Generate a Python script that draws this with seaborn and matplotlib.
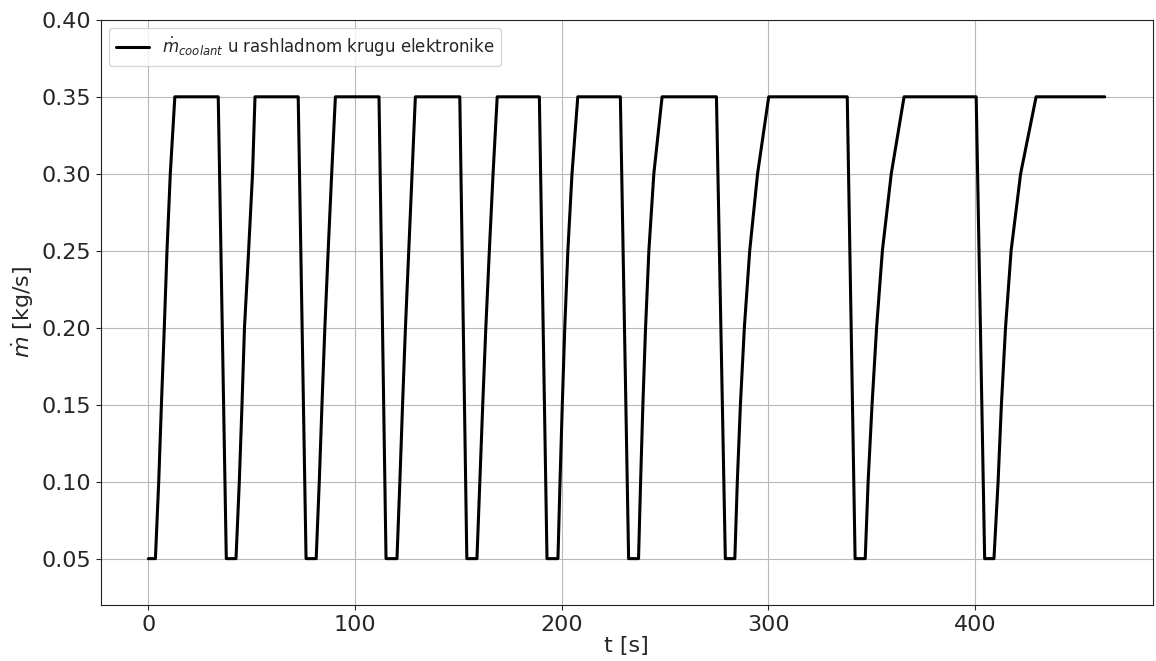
import numpy as np
import pandas as pd
import matplotlib
matplotlib.use("Agg")
import matplotlib.pyplot as plt
import seaborn as sns

# ---------------------------------------------------------------
# values
# ---------------------------------------------------------------
# flow levels crossed on every rise (kg/s)
levels = [0.05, 0.10, 0.15, 0.20, 0.25, 0.30, 0.35]

# time where each low plateau (0.05 kg/s) begins
low_start = [0.0, 37.7, 76.3, 115.0, 154.1, 192.9, 232.4, 279.2, 342.0, 404.7]

# times at which each rise passes the levels above
rise_times = [
    [3.4, 5.0, 6.3, 7.7, 9.0, 10.6, 12.8],
    [42.4, 44.0, 45.3, 46.5, 48.5, 50.4, 51.6],
    [81.2, 82.7, 84.0, 85.4, 87.0, 88.7, 90.5],
    [120.3, 121.7, 123.0, 124.4, 126.0, 127.6, 129.2],
    [159.0, 160.4, 161.8, 163.3, 165.0, 166.8, 168.8],
    [198.2, 199.2, 200.3, 201.5, 203.0, 205.0, 207.8],
    [237.2, 238.2, 239.3, 240.6, 242.2, 244.6, 248.6],
    [283.8, 285.0, 286.5, 288.4, 291.0, 294.8, 300.2],
    [346.9, 348.3, 350.2, 352.4, 355.2, 359.5, 365.7],
    [409.2, 411.2, 412.8, 414.8, 417.5, 422.1, 429.6],
]

# time where each high plateau (0.35 kg/s) ends
high_end = [33.8, 72.5, 111.6, 150.7, 189.2, 228.4, 274.9, 338.2, 400.6, 462.8]

m_low = 0.05
m_high = 0.35

# build the trace cycle by cycle
t_pts, m_pts = [], []
for i in range(len(low_start)):
    t_pts.append(low_start[i])
    m_pts.append(m_low)
    t_pts.extend(rise_times[i])
    m_pts.extend(levels)
    t_pts.append(high_end[i])
    m_pts.append(m_high)

df = pd.DataFrame({"t": t_pts, "m": m_pts})

# ---------------------------------------------------------------
# plot
# ---------------------------------------------------------------
sns.set_style("ticks")
plt.rcParams["font.family"] = ["DejaVu Sans"]

fig, ax = plt.subplots(figsize=(11.56, 6.61), dpi=100)
fig.subplots_adjust(left=0.087, right=0.997, top=0.970, bottom=0.085)

sns.lineplot(data=df, x="t", y="m", color="black", lw=2.2, sort=False,
             estimator=None,
             label=r"$\dot{m}_{coolant}$ u rashladnom krugu elektronike", ax=ax)

ax.grid(True, color="#b8b8b8", lw=0.8)
ax.set_ylim(0.02, 0.40)
ax.set_yticks(np.arange(0.05, 0.401, 0.05))
ax.yaxis.set_major_formatter(matplotlib.ticker.FormatStrFormatter("%.2f"))
ax.set_xticks([0, 100, 200, 300, 400])
ax.tick_params(labelsize=16)
ax.set_xlabel("t [s]", fontsize=16, labelpad=1)
ax.set_ylabel(r"$\dot{m}$ [kg/s]", fontsize=16)
for s in ax.spines.values():
    s.set_color("#222222")
ax.legend(loc="upper left", fontsize=12)

plt.savefig("out.png", dpi=100)
